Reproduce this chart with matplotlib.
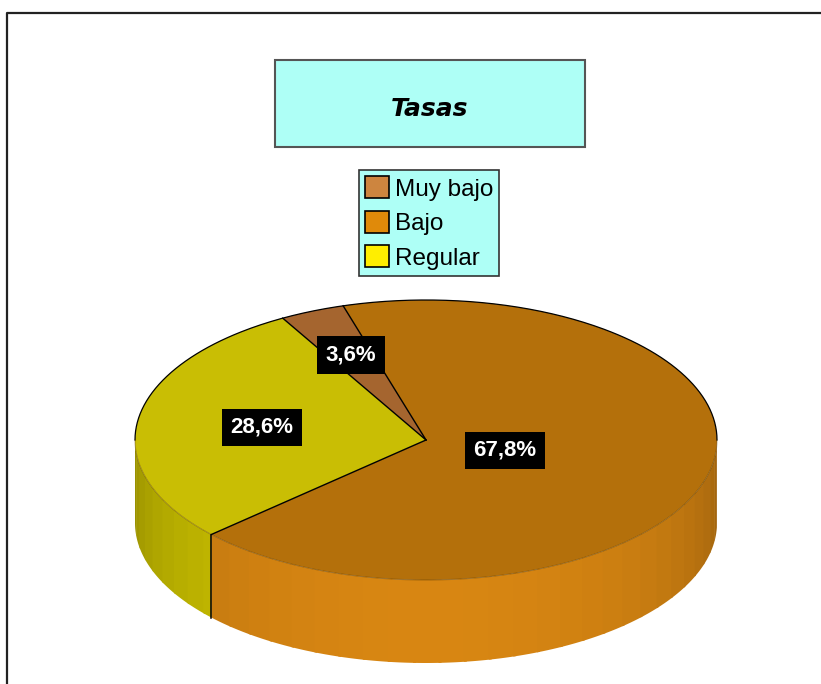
import numpy as np
import matplotlib.pyplot as plt
from matplotlib.patches import Polygon, Rectangle, Patch

# data
categories = ['Muy bajo', 'Bajo', 'Regular']
percent = [3.6, 67.8, 28.6]
labels = ['3,6%', '67,8%', '28,6%']

legend_colors = ['#CD853F', '#E08A0A', '#FFEE00']
top_colors = ['#A5652F', '#B4700B', '#C9BE04']
side_colors = ['#B8733A', '#D88612', '#CEC300']

# layout (pixels)
W, H = 821, 684
cx, cy = 426, 440      # centre of top ellipse
a, b = 291, 140        # semi axes
depth = 83
start = 119.5          # degrees, slices go clockwise
label_r = [0.66, 0.28, 0.57]

fig = plt.figure(figsize=(W / 100, H / 100), dpi=100)
ax = fig.add_axes([0, 0, 1, 1])
ax.set_xlim(0, W)
ax.set_ylim(H, 0)
ax.axis('off')


def ell(t, dy=0.0):
    r = np.radians(t)
    return cx + a * np.cos(r), cy - b * np.sin(r) + dy


def shade(col, f):
    c = np.array(plt.matplotlib.colors.to_rgb(col))
    return tuple(np.clip(c * f, 0, 1))


cum = np.concatenate([[0], np.cumsum(percent)])
t_hi = start - cum[:-1] * 3.6
t_lo = start - cum[1:] * 3.6

# side walls (front half only), drawn in strips
for i in range(len(percent)):
    lo, hi = t_lo[i], t_hi[i]
    for k in (-360, 0, 360):
        s0, s1 = max(lo + k, 180), min(hi + k, 360)
        if s1 <= s0:
            continue
        edges = np.append(np.arange(s0, s1, 5.0), s1)
        for e0, e1 in zip(edges[:-1], edges[1:]):
            tt = np.linspace(e0, min(e1 + 0.6, s1), 6)
            x, y = ell(tt)
            xs = np.concatenate([x, x[::-1]])
            ys = np.concatenate([y, (y + depth)[::-1]])
            f = 0.72 + 0.28 * (-np.sin(np.radians((e0 + e1) / 2))) ** 0.8
            ax.add_patch(Polygon(np.column_stack([xs, ys]), closed=True,
                                 facecolor=shade(side_colors[i], f),
                                 edgecolor='none'))

# vertical edges of slice borders on the front
for t in t_lo:
    tn = t % 360
    if 180 < tn < 360:
        x, y = ell(tn)
        ax.plot([x, x], [y, y + depth], color='black', lw=1.1)

# top faces
for i in range(len(percent)):
    tt = np.linspace(t_hi[i], t_lo[i], 200)
    x, y = ell(tt)
    xs = np.concatenate([[cx], x])
    ys = np.concatenate([[cy], y])
    ax.add_patch(Polygon(np.column_stack([xs, ys]), closed=True,
                         facecolor=top_colors[i], edgecolor='none'))

# outlines
tt = np.linspace(0, 180, 300)
ax.plot(*ell(tt), color='black', lw=0.9)
tt = np.linspace(180, 360, 300)
ax.plot(*ell(tt), color='#5a3a00', lw=0.8, alpha=0.4)
for t in t_hi:
    x, y = ell(t)
    ax.plot([cx, x], [cy, y], color='black', lw=1.0)

# value labels
mid = (t_hi + t_lo) / 2
for i, lab in enumerate(labels):
    x, y = ell(mid[i])
    lx = cx + (x - cx) * label_r[i]
    ly = cy + (y - cy) * label_r[i]
    ax.text(lx, ly, lab, ha='center', va='center', color='white',
            fontsize=16, fontweight='bold', family='Liberation Sans',
            bbox=dict(boxstyle='square,pad=0.38', fc='black', ec='none'))

# title box
ax.add_patch(Rectangle((275, 60), 310, 87, facecolor='#AEFFF6',
                       edgecolor='#555555', lw=1.5))
ax.text(430, 109, 'Tasas', ha='center', va='center', fontsize=18,
        fontweight='bold', style='italic', family='DejaVu Sans')

# legend
handles = [Patch(facecolor=c, edgecolor='black', lw=1.2) for c in legend_colors]
leg = fig.legend(handles, categories, loc='center',
                 bbox_to_anchor=(429 / W, 1 - 223 / H),
                 prop={'family': 'Liberation Sans', 'size': 17.5},
                 handlelength=1.0, handleheight=1.0, handletextpad=0.25,
                 labelspacing=0.42, borderpad=0.25, borderaxespad=0,
                 fancybox=False, framealpha=1)
leg.get_frame().set_facecolor('#AEFFF6')
leg.get_frame().set_edgecolor('#333333')
leg.get_frame().set_linewidth(1.2)

# outer frame
ax.plot([7, 7, W], [H, 13, 13], color='#222222', lw=1.6)

fig.savefig('out.png', dpi=100)
